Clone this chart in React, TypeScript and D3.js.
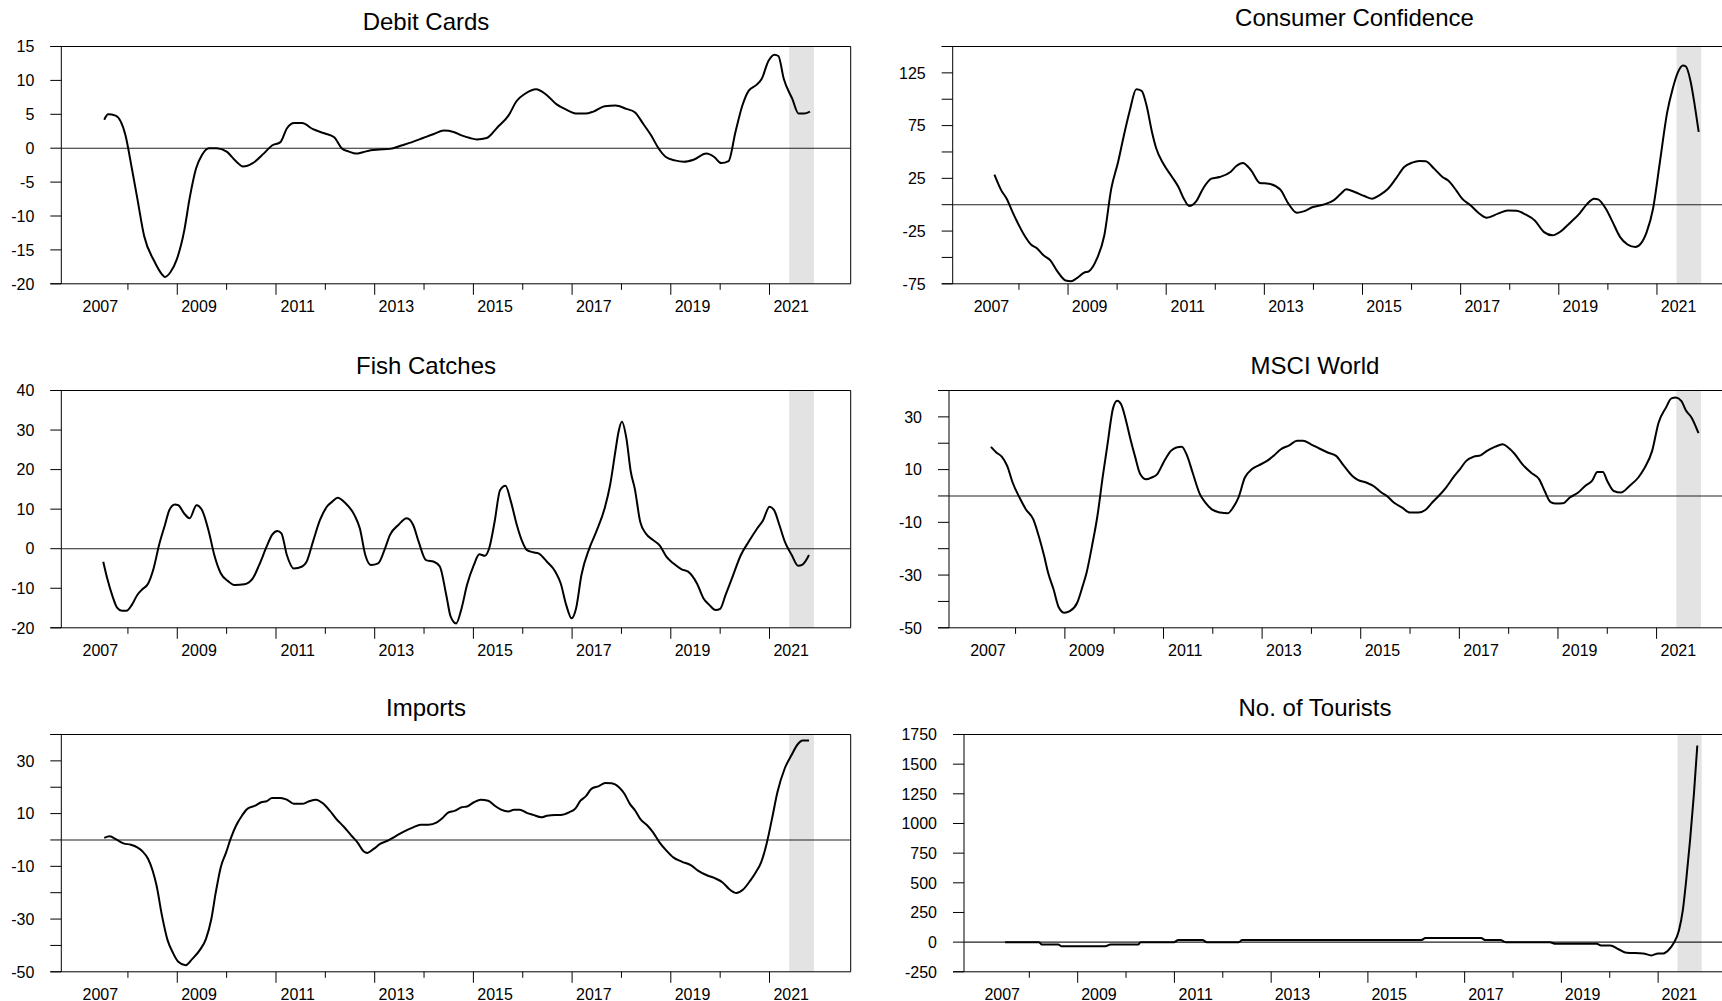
import React from 'react';
import * as d3 from 'd3';

const FONT = "'Liberation Sans', Arial, Helvetica, sans-serif";

// ---------- axis data ----------
const yearTicks = d3.range(2008, 2022);
const yearLabels = [2007, 2009, 2011, 2013, 2015, 2017, 2019, 2021];
const xDomain: [number, number] = [2006.65, 2022.645];
const forecastShade: [number, number] = [2021.4, 2021.9];

const debitTicks = [-20, -15, -10, -5, 0, 5, 10, 15];
const debitLabels = [-20, -15, -10, -5, 0, 5, 10, 15];
const ccTicks = [-75, -50, -25, 0, 25, 50, 75, 100, 125, 150];
const ccLabels = [-75, -25, 25, 75, 125];
const fishTicks = [-20, -10, 0, 10, 20, 30, 40];
const fishLabels = [-20, -10, 0, 10, 20, 30, 40];
const msciTicks = [-50, -40, -30, -20, -10, 0, 10, 20, 30, 40];
const msciLabels = [-50, -30, -10, 10, 30];
const importTicks = [-50, -40, -30, -20, -10, 0, 10, 20, 30, 40];
const importLabels = [-50, -30, -10, 10, 30];
const touristTicks = [-250, 0, 250, 500, 750, 1000, 1250, 1500, 1750];
const touristLabels = [-250, 0, 250, 500, 750, 1000, 1250, 1500, 1750];

// ---------- series (year, value) ----------
const debitCards: [number, number][] = [
  [2007.52, 4.2], [2007.6, 5.0], [2007.75, 4.8], [2007.95, 1.9], [2008.08, -3], [2008.19, -7.4],
  [2008.33, -13], [2008.53, -16.6], [2008.69, -18.6], [2008.75, -19], [2008.86, -18.3], [2008.99, -16.4],
  [2009.14, -12.2], [2009.25, -7.4], [2009.38, -3], [2009.5, -1], [2009.64, 0], [2009.8, 0],
  [2010.0, -0.5], [2010.2, -2], [2010.33, -2.7], [2010.53, -2.2], [2010.75, -0.8], [2010.92, 0.4],
  [2011.09, 0.9], [2011.22, 2.9], [2011.37, 3.7], [2011.53, 3.7], [2011.75, 2.8], [2011.98, 2.2],
  [2012.18, 1.6], [2012.33, 0], [2012.48, -0.5], [2012.62, -0.8], [2012.76, -0.6], [2012.92, -0.3],
  [2013.09, -0.2], [2013.31, -0.1], [2013.54, 0.4], [2013.76, 0.9], [2013.98, 1.5], [2014.2, 2.1],
  [2014.4, 2.6], [2014.6, 2.4], [2014.76, 1.9], [2014.93, 1.5], [2015.07, 1.3], [2015.27, 1.5],
  [2015.49, 3.1], [2015.71, 4.8], [2015.88, 7.0], [2016.04, 8.0], [2016.27, 8.7], [2016.49, 7.8],
  [2016.68, 6.5], [2016.88, 5.7], [2017.1, 5.1], [2017.27, 5.1], [2017.43, 5.4], [2017.66, 6.2],
  [2017.88, 6.3], [2018.1, 5.8], [2018.27, 5.3], [2018.44, 3.6], [2018.6, 1.9], [2018.75, 0],
  [2018.9, -1.3], [2019.08, -1.8], [2019.27, -2], [2019.46, -1.7], [2019.72, -0.8], [2019.88, -1.3],
  [2020.02, -2.2], [2020.17, -1.9], [2020.31, 2.4], [2020.45, 6.3], [2020.58, 8.5], [2020.73, 9.3],
  [2020.84, 10.2], [2020.98, 12.9], [2021.1, 13.8], [2021.18, 13.6], [2021.29, 10.2], [2021.46, 7.3],
  [2021.59, 5.1], [2021.7, 5.1], [2021.82, 5.4],
];

const consumerConfidence: [number, number][] = [
  [2007.5, 28.5], [2007.64, 13.6], [2007.75, 5.7], [2007.87, -7], [2008.0, -19.6], [2008.11, -29],
  [2008.25, -38], [2008.36, -41], [2008.5, -48], [2008.64, -52.8], [2008.78, -63], [2008.95, -71.8],
  [2009.06, -72.5], [2009.18, -69.6], [2009.32, -64.6], [2009.43, -63], [2009.59, -51], [2009.74, -29],
  [2009.88, 15], [2010.02, 40.5], [2010.13, 64], [2010.26, 89.6], [2010.39, 109.5], [2010.5, 108],
  [2010.6, 94], [2010.71, 69], [2010.8, 53], [2010.94, 39], [2011.12, 26.3], [2011.25, 16.8],
  [2011.36, 5.7], [2011.47, -1.3], [2011.61, 3.2], [2011.75, 15.2], [2011.92, 24.7], [2012.09, 26.3],
  [2012.31, 31], [2012.43, 36.7], [2012.56, 39.6], [2012.73, 32.6], [2012.91, 20.6], [2013.09, 19.9],
  [2013.32, 14.6], [2013.49, 1], [2013.66, -7.6], [2013.8, -6.3], [2013.99, -2.2], [2014.22, 0.3],
  [2014.41, 4.1], [2014.56, 10.4], [2014.67, 14.6], [2014.84, 12], [2015.04, 8.2], [2015.2, 5.7],
  [2015.34, 8.9], [2015.51, 14.6], [2015.68, 24.7], [2015.85, 35.8], [2016.01, 39.9], [2016.16, 41.5],
  [2016.29, 41.1], [2016.46, 34.2], [2016.63, 26.3], [2016.74, 23.1], [2016.91, 13.6], [2017.03, 5.7],
  [2017.2, -0.6], [2017.36, -7.6], [2017.53, -12.3], [2017.76, -8.5], [2017.96, -5.4], [2018.14, -5.7],
  [2018.33, -9.5], [2018.51, -14.9], [2018.7, -26], [2018.87, -29], [2019.04, -25.3], [2019.21, -18],
  [2019.43, -7.9], [2019.57, 0.3], [2019.72, 5.7], [2019.8, 5], [2019.95, -3.2], [2020.09, -15.8],
  [2020.25, -30.7], [2020.4, -37.7], [2020.56, -40.2], [2020.67, -37], [2020.79, -26], [2020.92, -3.8],
  [2021.06, 40.5], [2021.21, 88], [2021.32, 110], [2021.43, 126], [2021.53, 132], [2021.59, 131],
  [2021.68, 118], [2021.77, 94], [2021.85, 69],
];

const fishCatches: [number, number][] = [
  [2007.5, -3.3], [2007.58, -7.5], [2007.69, -12.1], [2007.78, -14.9], [2007.88, -15.7], [2007.97, -15.7],
  [2008.08, -14.2], [2008.19, -11.7], [2008.28, -10.4], [2008.41, -8.8], [2008.52, -5], [2008.63, 0.9],
  [2008.75, 6], [2008.84, 9.8], [2008.95, 11.2], [2009.02, 11], [2009.14, 8.9], [2009.25, 7.7],
  [2009.39, 11], [2009.5, 9.8], [2009.64, 4.3], [2009.75, -1.6], [2009.88, -6.2], [2010.03, -8.2],
  [2010.17, -9.2], [2010.36, -9], [2010.53, -7.5], [2010.66, -4.1], [2010.81, 0.5], [2010.92, 3.5],
  [2011.03, 4.5], [2011.11, 3.9], [2011.22, -1.6], [2011.36, -5], [2011.53, -4.5], [2011.62, -3.3],
  [2011.75, 1.8], [2011.89, 7.2], [2012.03, 10.6], [2012.14, 11.9], [2012.25, 12.9], [2012.4, 11.6],
  [2012.59, 8.5], [2012.7, 5.1], [2012.81, -1.6], [2012.92, -4.1], [2013.07, -3.7], [2013.21, 0.1],
  [2013.31, 3.5], [2013.48, 6], [2013.65, 7.7], [2013.78, 6], [2013.89, 1.8], [2014.04, -2.9],
  [2014.2, -3.3], [2014.32, -4.5], [2014.45, -11.7], [2014.54, -17.2], [2014.65, -18.9], [2014.76, -15.1],
  [2014.87, -9.2], [2015.01, -4.1], [2015.12, -1.4], [2015.23, -1.8], [2015.32, 0.1], [2015.43, 6.8],
  [2015.54, 14.8], [2015.65, 15.9], [2015.76, 11.9], [2015.88, 6], [2015.99, 1.8], [2016.08, -0.3],
  [2016.21, -0.9], [2016.32, -1.2], [2016.49, -3.3], [2016.66, -5.8], [2016.77, -8.8], [2016.88, -14.2],
  [2016.99, -17.6], [2017.08, -15.1], [2017.19, -6.6], [2017.35, 0.1], [2017.49, 4.3], [2017.66, 10.2],
  [2017.77, 16.1], [2017.88, 24.9], [2017.94, 29.5], [2018.01, 32.1], [2018.1, 27.9], [2018.19, 19.4],
  [2018.27, 15.2], [2018.38, 6.8], [2018.49, 3.9], [2018.64, 2.2], [2018.77, 0.9], [2018.91, -2],
  [2019.05, -3.7], [2019.22, -5.2], [2019.35, -5.8], [2019.53, -8.8], [2019.66, -12.5], [2019.78, -14.2],
  [2019.91, -15.5], [2020.0, -15.2], [2020.11, -11.7], [2020.25, -7.1], [2020.42, -1.6], [2020.58, 1.8],
  [2020.75, 5.1], [2020.87, 7.2], [2021.0, 10.6], [2021.09, 9.8], [2021.2, 6], [2021.31, 1.8],
  [2021.45, -1.6], [2021.58, -4.3], [2021.67, -4], [2021.8, -1.6],
];

const msciWorld: [number, number][] = [
  [2007.5, 18.6], [2007.61, 16.5], [2007.72, 14.9], [2007.83, 11.4], [2007.94, 5.1], [2008.08, -0.6],
  [2008.21, -5.1], [2008.36, -8.9], [2008.47, -15.2], [2008.58, -22.8], [2008.66, -29.1], [2008.77, -35.4],
  [2008.88, -42.4], [2008.99, -44.3], [2009.1, -43.7], [2009.25, -40.5], [2009.36, -34.2], [2009.44, -29.1],
  [2009.55, -19], [2009.66, -7.6], [2009.77, 7.6], [2009.86, 19], [2009.98, 33.5], [2010.06, 36.1],
  [2010.14, 34.8], [2010.25, 27.8], [2010.33, 21.5], [2010.42, 15.2], [2010.53, 8.2], [2010.65, 6.3],
  [2010.76, 7], [2010.87, 8.2], [2011.0, 12.7], [2011.15, 17.1], [2011.26, 18.4], [2011.37, 18.7],
  [2011.48, 15.2], [2011.59, 8.9], [2011.74, 0.6], [2011.85, -2.5], [2011.98, -5.1], [2012.15, -6.3],
  [2012.3, -6.6], [2012.41, -4.4], [2012.52, -0.6], [2012.65, 7], [2012.79, 10.1], [2012.93, 11.6],
  [2013.1, 13.3], [2013.23, 15.2], [2013.38, 17.7], [2013.55, 19.2], [2013.71, 20.9], [2013.83, 20.9],
  [2013.99, 19.6], [2014.16, 18], [2014.33, 16.5], [2014.5, 15.2], [2014.66, 11.4], [2014.83, 7.6],
  [2014.94, 6.1], [2015.11, 5.1], [2015.28, 3.5], [2015.42, 1.3], [2015.53, 0], [2015.67, -2.5],
  [2015.84, -4.4], [2016.0, -6.3], [2016.17, -6.3], [2016.31, -5.3], [2016.45, -2.5], [2016.58, 0],
  [2016.73, 3.2], [2016.9, 7.6], [2017.01, 10.1], [2017.14, 13.3], [2017.29, 14.9], [2017.43, 15.4],
  [2017.56, 17.1], [2017.73, 18.7], [2017.88, 19.6], [2017.99, 18.4], [2018.11, 16.2], [2018.28, 12],
  [2018.45, 8.9], [2018.62, 6.3], [2018.73, 1.9], [2018.85, -2.3], [2018.96, -2.9], [2019.1, -2.8],
  [2019.24, -0.6], [2019.41, 1.3], [2019.55, 3.8], [2019.69, 5.7], [2019.8, 9.1], [2019.91, 9.1],
  [2020.0, 5.7], [2020.13, 1.9], [2020.28, 1.3], [2020.45, 3.8], [2020.63, 7], [2020.74, 10.1],
  [2020.91, 17.1], [2021.04, 27.8], [2021.19, 33.5], [2021.3, 37], [2021.39, 37.3], [2021.5, 36.1],
  [2021.6, 32.3], [2021.71, 29.7], [2021.85, 23.8],
];

const imports: [number, number][] = [
  [2007.52, 0.8], [2007.63, 1.4], [2007.77, 0.1], [2007.91, -1.3], [2008.06, -1.8], [2008.19, -2.8],
  [2008.3, -4.4], [2008.41, -7.2], [2008.5, -11.6], [2008.58, -17.3], [2008.69, -28.7], [2008.8, -37.8],
  [2008.91, -42.7], [2009.02, -46.2], [2009.17, -47.5], [2009.3, -45.2], [2009.47, -41.4], [2009.58, -37.6],
  [2009.69, -30], [2009.78, -19.9], [2009.88, -10.4], [2009.99, -4.7], [2010.08, 0.4], [2010.19, 5.4],
  [2010.31, 9.2], [2010.42, 11.8], [2010.58, 13], [2010.7, 14.3], [2010.81, 14.7], [2010.92, 15.9],
  [2011.09, 15.9], [2011.22, 15.3], [2011.36, 13.7], [2011.53, 13.7], [2011.66, 14.6], [2011.81, 15.3],
  [2011.95, 13.9], [2012.09, 11.1], [2012.22, 8], [2012.37, 5.1], [2012.53, 1.6], [2012.65, -0.9],
  [2012.78, -4.4], [2012.85, -4.9], [2012.98, -3.4], [2013.11, -1.5], [2013.26, -0.3], [2013.42, 1.4],
  [2013.59, 3.2], [2013.78, 4.8], [2013.93, 5.8], [2014.09, 5.8], [2014.26, 6.7], [2014.37, 8.2],
  [2014.48, 10.3], [2014.63, 11.1], [2014.76, 12.4], [2014.87, 12.7], [2015.01, 14.3], [2015.15, 15.3],
  [2015.3, 14.9], [2015.43, 13], [2015.56, 11.5], [2015.71, 10.8], [2015.82, 11.5], [2015.94, 11.5],
  [2016.08, 10.3], [2016.21, 9.5], [2016.38, 8.6], [2016.49, 9.2], [2016.66, 9.5], [2016.77, 9.5],
  [2016.94, 10.5], [2017.06, 11.8], [2017.17, 14.9], [2017.28, 16.6], [2017.39, 19.4], [2017.54, 20.4],
  [2017.67, 21.6], [2017.8, 21.5], [2017.95, 20], [2018.06, 17.5], [2018.17, 13.7], [2018.28, 11.1],
  [2018.38, 8], [2018.53, 5.4], [2018.64, 2.9], [2018.77, -0.9], [2018.91, -4], [2019.05, -6.6],
  [2019.22, -8.2], [2019.42, -9.7], [2019.55, -11.6], [2019.72, -13.3], [2019.88, -14.4], [2020.05, -16.1],
  [2020.2, -18.9], [2020.33, -20.1], [2020.46, -18.9], [2020.61, -15.4], [2020.72, -12.3], [2020.83, -8.5],
  [2020.94, -1.5], [2021.05, 8], [2021.16, 18.1], [2021.31, 27.2], [2021.44, 32], [2021.58, 36.5],
  [2021.67, 37.7], [2021.8, 37.7],
];

const tourists: [number, number][] = [
  [2007.5, 0], [2008.2, 0], [2008.26, -20], [2008.6, -20], [2008.66, -34], [2009.57, -34],
  [2009.68, -20], [2010.25, -20], [2010.3, 0], [2010.99, 0], [2011.08, 17], [2011.58, 17],
  [2011.67, 0], [2012.33, 0], [2012.4, 17], [2016.1, 17], [2016.19, 34], [2017.34, 34],
  [2017.43, 17], [2017.74, 17], [2017.85, 0], [2018.76, 0], [2018.88, -14], [2019.73, -14],
  [2019.82, -28], [2020.01, -28], [2020.18, -60], [2020.35, -90], [2020.69, -95], [2020.86, -112],
  [2021.0, -95], [2021.11, -95], [2021.23, -60], [2021.32, -10], [2021.43, 98], [2021.51, 267],
  [2021.58, 520], [2021.66, 857], [2021.74, 1250], [2021.81, 1657],
];

// ---------- layout ----------
type Spec = {
  title: string;
  data: [number, number][];
  yDomain: [number, number];
  ticks: number[];
  labels: number[];
  axisX: number;
  right: number;
  top: number;
  titleX: number;
  titleY: number;
};

const PLOT_H = 237.3;
const LEFT_R = 850.7;
const RIGHT_R = 1737.7;

const specs: Spec[] = [
  { title: 'Debit Cards', data: debitCards, yDomain: [-20, 15], ticks: debitTicks, labels: debitLabels,
    axisX: 61.3, right: LEFT_R, top: 46.5, titleX: 426, titleY: 30 },
  { title: 'Consumer Confidence', data: consumerConfidence, yDomain: [-75, 150], ticks: ccTicks, labels: ccLabels,
    axisX: 952.7, right: RIGHT_R, top: 46.5, titleX: 1354.5, titleY: 25.5 },
  { title: 'Fish Catches', data: fishCatches, yDomain: [-20, 40], ticks: fishTicks, labels: fishLabels,
    axisX: 61.3, right: LEFT_R, top: 390.5, titleX: 426, titleY: 373.5 },
  { title: 'MSCI World', data: msciWorld, yDomain: [-50, 40], ticks: msciTicks, labels: msciLabels,
    axisX: 949, right: RIGHT_R, top: 390.5, titleX: 1315, titleY: 373.5 },
  { title: 'Imports', data: imports, yDomain: [-50, 40], ticks: importTicks, labels: importLabels,
    axisX: 61.3, right: LEFT_R, top: 734.5, titleX: 426, titleY: 716 },
  { title: 'No. of Tourists', data: tourists, yDomain: [-250, 1750], ticks: touristTicks, labels: touristLabels,
    axisX: 964, right: RIGHT_R, top: 734.5, titleX: 1315, titleY: 716 },
];

function Panel({ s }: { s: Spec }) {
  const bottom = s.top + PLOT_H;
  const x = d3.scaleLinear().domain(xDomain).range([s.axisX, s.right]);
  const y = d3.scaleLinear().domain(s.yDomain).range([bottom, s.top]);
  const line = d3
    .line<[number, number]>()
    .x((d) => x(d[0]))
    .y((d) => y(d[1]))
    .curve(d3.curveMonotoneX);
  const TL = 11;
  return (
    <g>
      <text x={s.titleX} y={s.titleY} textAnchor="middle" fontSize={24} fontFamily={FONT} fill="#000">
        {s.title}
      </text>
      <rect
        x={x(forecastShade[0])}
        y={s.top}
        width={x(forecastShade[1]) - x(forecastShade[0])}
        height={PLOT_H}
        fill="#e3e3e3"
      />
      {/* frame */}
      <line x1={s.axisX} x2={s.axisX} y1={s.top} y2={bottom} stroke="#000" strokeWidth={1} />
      <line x1={s.right} x2={s.right} y1={s.top} y2={bottom} stroke="#000" strokeWidth={1} />
      <line x1={s.axisX - TL} x2={s.right} y1={s.top} y2={s.top} stroke="#000" strokeWidth={1} />
      <line x1={s.axisX - TL} x2={s.right} y1={bottom} y2={bottom} stroke="#000" strokeWidth={1} />
      {/* zero line */}
      <line x1={s.axisX} x2={s.right} y1={y(0)} y2={y(0)} stroke="#222" strokeWidth={1.1} />
      {/* y ticks */}
      {s.ticks.map((t) => (
        <line key={'yt' + t} x1={s.axisX - TL} x2={s.axisX} y1={y(t)} y2={y(t)} stroke="#000" strokeWidth={1} />
      ))}
      {s.labels.map((t) => (
        <text key={'yl' + t} x={s.axisX - 27} y={y(t) + 5.7} textAnchor="end" fontSize={16} fontFamily={FONT} fill="#000">
          {t}
        </text>
      ))}
      {/* x ticks */}
      {yearTicks.map((yr) => (
        <line
          key={'xt' + yr}
          x1={x(yr)}
          x2={x(yr)}
          y1={bottom}
          y2={bottom + (yr % 2 === 1 ? 11 : 6)}
          stroke="#000"
          strokeWidth={1}
        />
      ))}
      {yearLabels.map((yr) => (
        <text key={'xl' + yr} x={x(yr + 0.44)} y={bottom + 28} textAnchor="middle" fontSize={16} fontFamily={FONT} fill="#000">
          {yr}
        </text>
      ))}
      <path d={line(s.data) || ''} fill="none" stroke="#000" strokeWidth={2} strokeLinejoin="round" />
    </g>
  );
}

export default function App() {
  return (
    <div style={{ position: 'fixed', left: 0, top: 0, width: 1722, height: 1001, background: '#fff' }}>
      <svg width={1722} height={1001} viewBox="0 0 1722 1001" style={{ display: 'block' }}>
        <rect x={0} y={0} width={1722} height={1001} fill="#fff" />
        {specs.map((s) => (
          <Panel key={s.title} s={s} />
        ))}
      </svg>
    </div>
  );
}
